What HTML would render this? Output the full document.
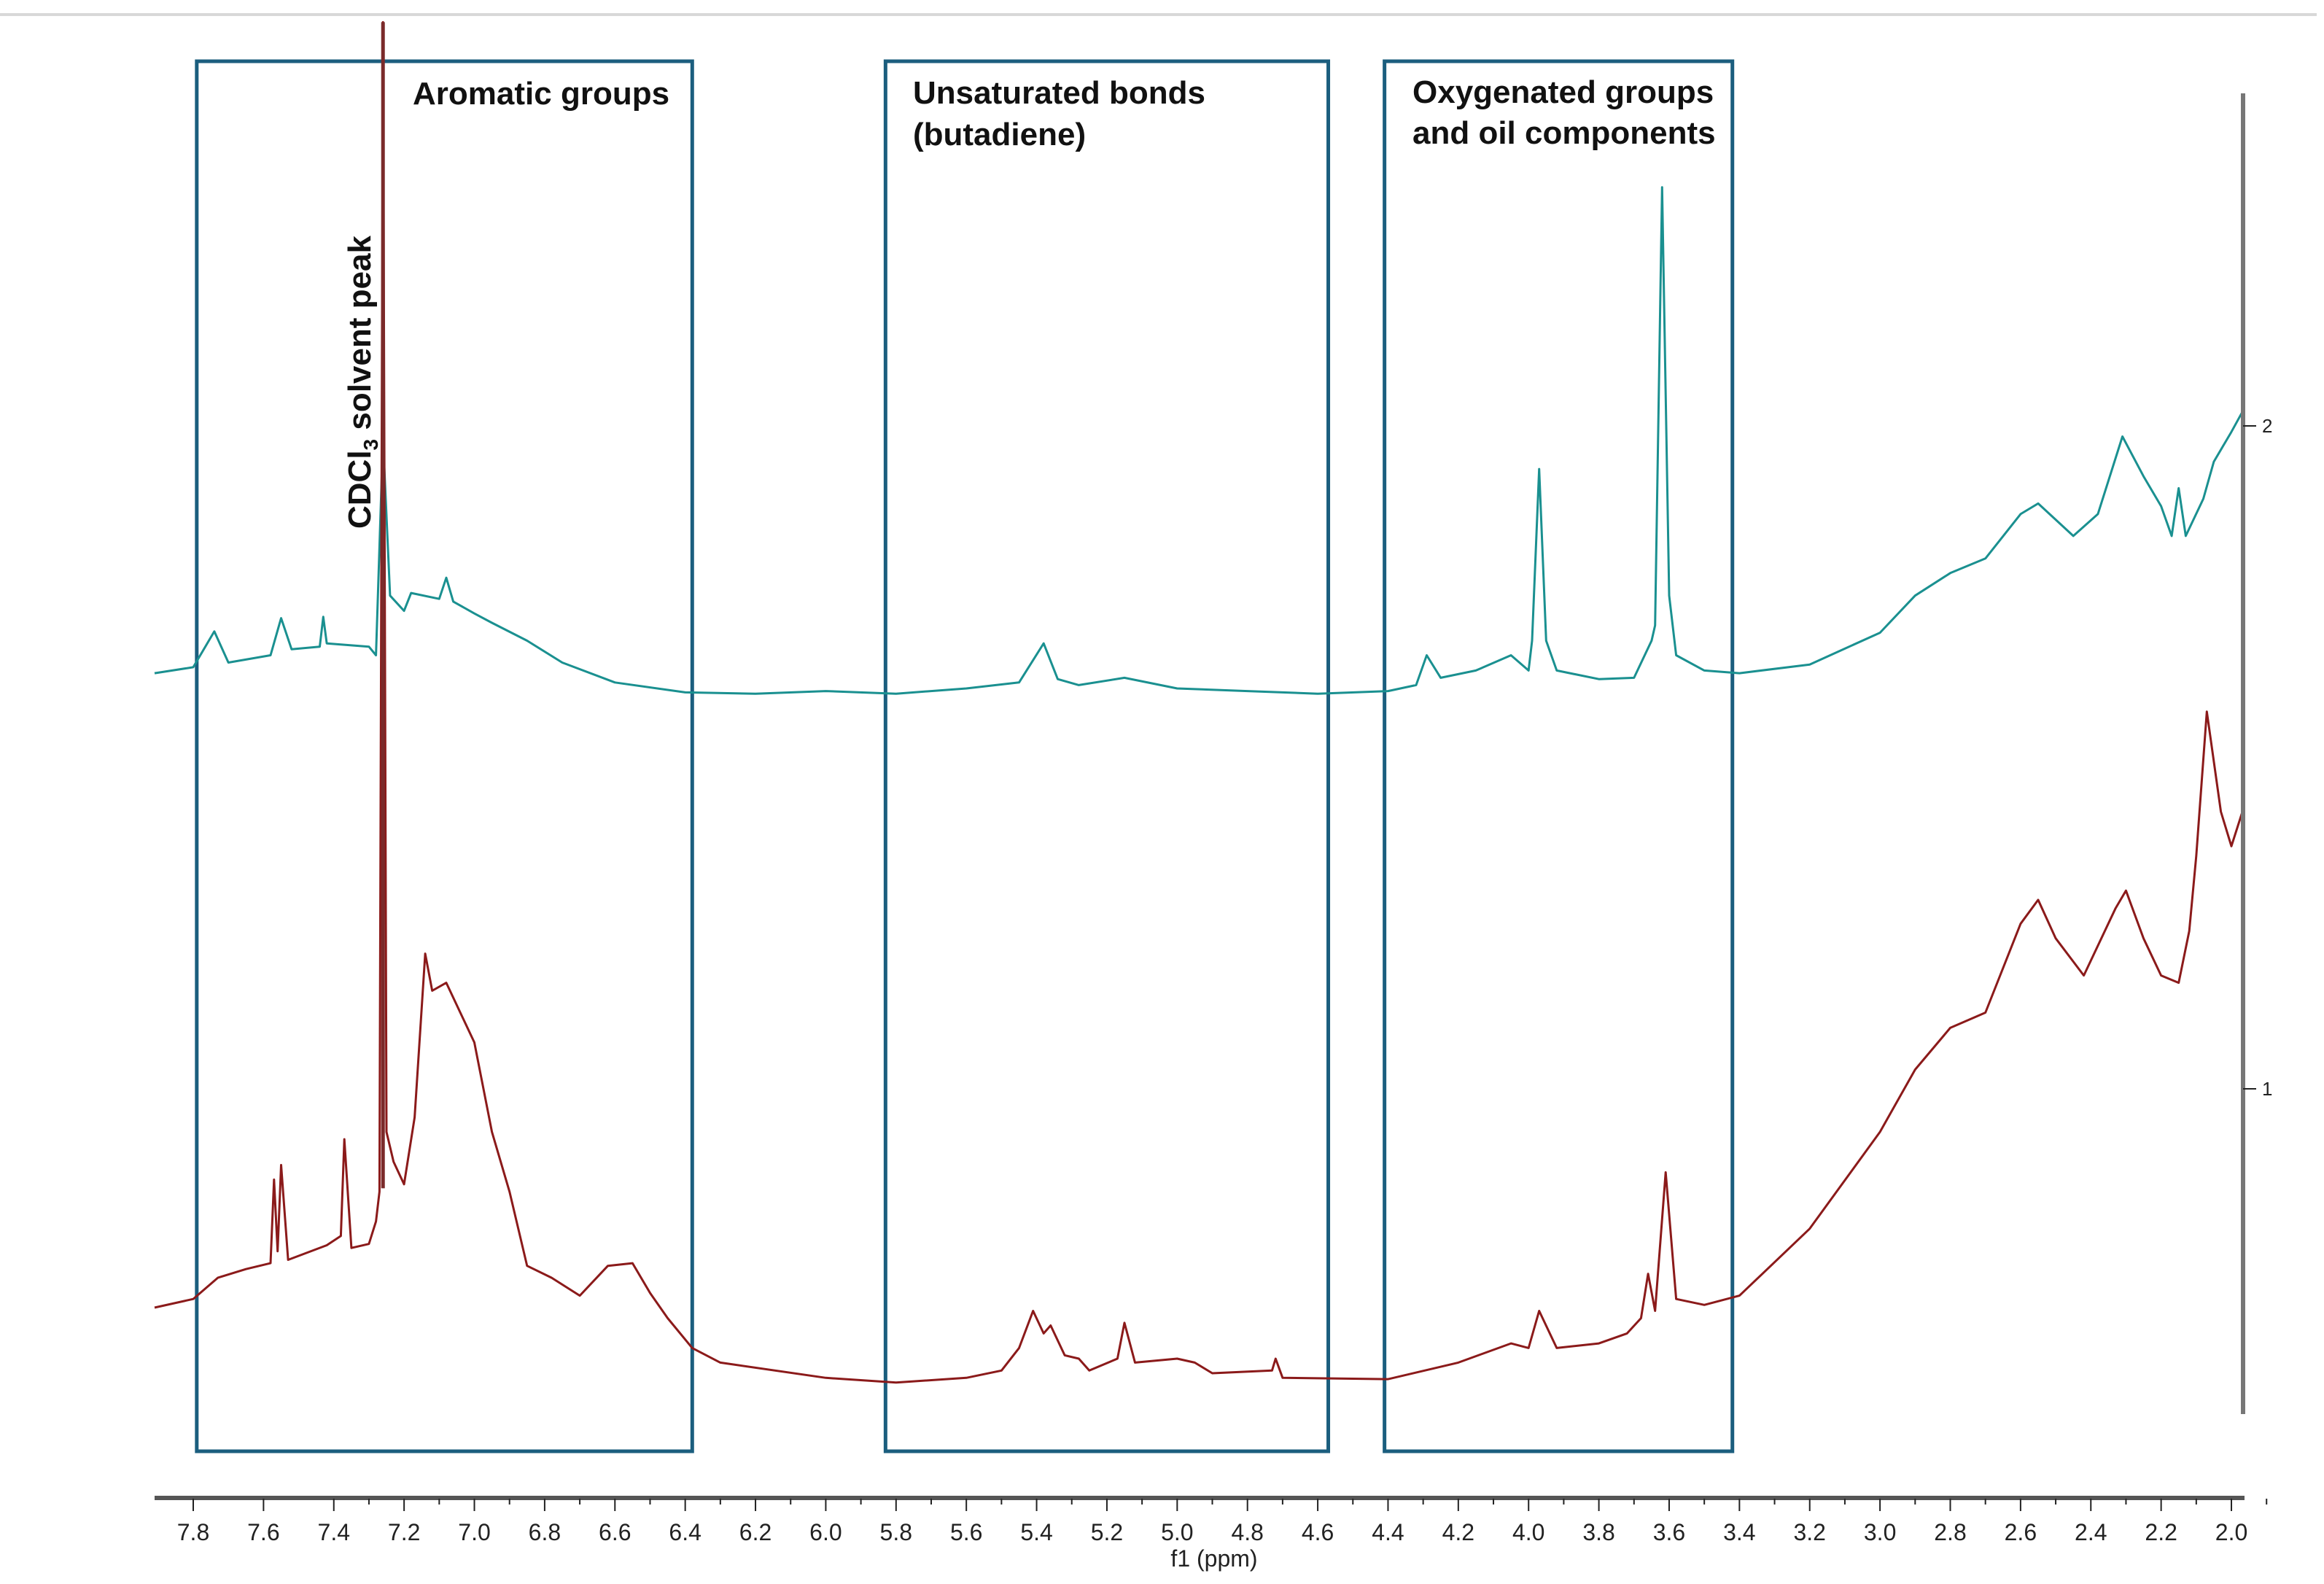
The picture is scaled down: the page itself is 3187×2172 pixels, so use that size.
<!DOCTYPE html>
<html><head><meta charset="utf-8"><style>
html,body{margin:0;padding:0;background:#fff;}
svg{display:block;font-family:"Liberation Sans",sans-serif;}
</style></head><body>
<svg id="chart" width="3187" height="2172" viewBox="0 0 3187 2172">
<line x1="0" y1="20" x2="3177" y2="20" stroke="#d8d8d8" stroke-width="4"/>
<g id="boxes"></g>
<g id="series"></g>
<g id="xaxis"></g>
<g id="yaxis"></g>
<g font-weight="bold" font-size="44" fill="#111">
<text x="566" y="143">Aromatic groups</text>
<text x="1252" y="142">Unsaturated bonds</text>
<text x="1252" y="199">(butadiene)</text>
<text x="1937" y="141">Oxygenated groups</text>
<text x="1937" y="197">and oil components</text>
<text transform="translate(508,725) rotate(-90)">CDCl<tspan font-size="28" dy="10">3</tspan><tspan dy="-10"> solvent peak</tspan></text>
</g>
</svg>
<script>
const tealPpm=[7.91,7.80,7.74,7.70,7.58,7.55,7.52,7.44,7.43,7.42,7.30,7.28,7.26,7.24,7.20,7.18,7.10,7.08,7.06,7.00,6.95,6.85,6.75,6.60,6.40,6.20,6.00,5.80,5.60,5.45,5.38,5.34,5.28,5.15,5.00,4.80,4.60,4.40,4.32,4.29,4.25,4.15,4.05,4.00,3.99,3.97,3.95,3.92,3.80,3.70,3.65,3.64,3.62,3.60,3.58,3.50,3.40,3.20,3.00,2.90,2.80,2.70,2.60,2.55,2.45,2.38,2.31,2.25,2.20,2.17,2.15,2.13,2.08,2.05,2.00,1.97];
const tealVal=[1.627,1.636,1.690,1.643,1.654,1.710,1.663,1.667,1.712,1.672,1.667,1.654,1.982,1.744,1.721,1.748,1.739,1.771,1.735,1.717,1.703,1.676,1.643,1.613,1.598,1.596,1.600,1.596,1.604,1.613,1.672,1.618,1.609,1.620,1.604,1.600,1.596,1.600,1.609,1.654,1.620,1.631,1.654,1.631,1.676,1.935,1.676,1.631,1.618,1.620,1.676,1.699,2.360,1.744,1.654,1.631,1.627,1.640,1.688,1.744,1.778,1.800,1.867,1.883,1.834,1.867,1.984,1.924,1.879,1.834,1.906,1.834,1.890,1.946,1.991,2.020];
const redPpm=[7.91,7.80,7.73,7.65,7.58,7.57,7.56,7.55,7.53,7.42,7.38,7.37,7.35,7.30,7.28,7.27,7.26,7.25,7.23,7.20,7.17,7.14,7.12,7.08,7.00,6.95,6.90,6.85,6.78,6.70,6.62,6.55,6.50,6.45,6.38,6.30,6.00,5.80,5.60,5.50,5.45,5.41,5.38,5.36,5.32,5.28,5.25,5.17,5.15,5.12,5.00,4.95,4.90,4.73,4.72,4.70,4.40,4.20,4.05,4.00,3.97,3.92,3.80,3.72,3.68,3.66,3.64,3.61,3.58,3.50,3.40,3.20,3.00,2.90,2.80,2.70,2.60,2.55,2.50,2.42,2.33,2.30,2.25,2.20,2.15,2.12,2.10,2.07,2.03,2.00,1.97];
const redVal=[0.670,0.683,0.715,0.728,0.737,0.863,0.755,0.885,0.742,0.764,0.778,0.924,0.760,0.766,0.800,0.845,2.609,0.935,0.890,0.856,0.957,1.204,1.148,1.160,1.070,0.935,0.845,0.733,0.715,0.688,0.733,0.737,0.692,0.654,0.609,0.587,0.564,0.557,0.564,0.575,0.609,0.665,0.631,0.643,0.598,0.593,0.575,0.593,0.647,0.587,0.593,0.587,0.571,0.575,0.593,0.564,0.562,0.587,0.616,0.609,0.665,0.609,0.616,0.631,0.654,0.721,0.665,0.874,0.683,0.674,0.688,0.789,0.935,1.029,1.092,1.115,1.249,1.285,1.227,1.171,1.272,1.299,1.227,1.171,1.160,1.238,1.351,1.569,1.418,1.366,1.416];
const xTickLabels=["7.8","7.6","7.4","7.2","7.0","6.8","6.6","6.4","6.2","6.0","5.8","5.6","5.4","5.2","5.0","4.8","4.6","4.4","4.2","4.0","3.8","3.6","3.4","3.2","3.0","2.8","2.6","2.4","2.2","2.0"];
const yTickLabels=["1","2"];
const regionStarts=[7.79,5.83,4.41];
const regionEnds=[6.38,4.57,3.42];
const regionNames=["aromatic-region-box","unsaturated-region-box","oxygenated-region-box"];

const NS="http://www.w3.org/2000/svg";
function xPx(p){return 265+(7.8-p)*481.9;}
function yPx(v){return 1493-(v-1)*909;}
function mk(tag,attrs,parent){const e=document.createElementNS(NS,tag);for(const k in attrs)e.setAttribute(k,attrs[k]);parent.appendChild(e);return e;}

const boxes=document.getElementById('boxes');
for(let i=0;i<regionStarts.length;i++){
  const r=mk('rect',{x:xPx(regionStarts[i]),y:84,width:xPx(regionEnds[i])-xPx(regionStarts[i]),height:1906,fill:'none',stroke:'#1b5e7e','stroke-width':5},boxes);
  
  
}

const series=document.getElementById('series');
function drawLine(ppm,val,color,name){
  let d='';
  for(let i=0;i<ppm.length;i++)d+=(i?'L':'M')+xPx(ppm[i]).toFixed(1)+' '+yPx(val[i]).toFixed(1);
  const p=mk('path',{d:d,fill:'none',stroke:color,'stroke-width':3,'stroke-linejoin':'round'},series);
  
  
}
drawLine(tealPpm,tealVal,'#1a9090','teal-spectrum');
drawLine(redPpm,redVal,'#8b1a1a','red-spectrum');
const sp=mk('line',{x1:xPx(7.26),y1:yPx(2.609),x2:xPx(7.26),y2:yPx(0.85),stroke:'#7a2a2a','stroke-width':5},series);



const xa=document.getElementById('xaxis');
const al=mk('rect',{x:212,y:2051,width:2866,height:6,fill:'#555'},xa);


for(let i=0;i<xTickLabels.length;i++){
  const v=parseFloat(xTickLabels[i]);
  const x=xPx(v);
  const t=mk('line',{x1:x,y1:2055,x2:x,y2:2072,stroke:'#222','stroke-width':2},xa);
  
  
  if(i<xTickLabels.length-1){
    const m=mk('line',{x1:x+240.95,y1:2055,x2:x+240.95,y2:2063,stroke:'#222','stroke-width':2},xa);
    
    
  }
  const lb=mk('text',{x:x,y:2112,'text-anchor':'middle','font-size':32,fill:'#222'},xa);
  lb.textContent=xTickLabels[i];
  
  
}
const xt=mk('text',{x:1665,y:2148,'text-anchor':'middle','font-size':32,fill:'#222'},xa);
xt.textContent='f1 (ppm)';



const ya=document.getElementById('yaxis');
const yl=mk('rect',{x:3073,y:128,width:6,height:1811,fill:'#777'},ya);


for(let i=0;i<yTickLabels.length;i++){
  const v=parseFloat(yTickLabels[i]);
  const y=yPx(v);
  const t=mk('line',{x1:3076,y1:y,x2:3094,y2:y,stroke:'#222','stroke-width':2},ya);
  
  
  const lb=mk('text',{x:3102,y:y+9,'font-size':26,fill:'#222'},ya);
  lb.textContent=yTickLabels[i];
  
  
}
</script>
</body></html>
